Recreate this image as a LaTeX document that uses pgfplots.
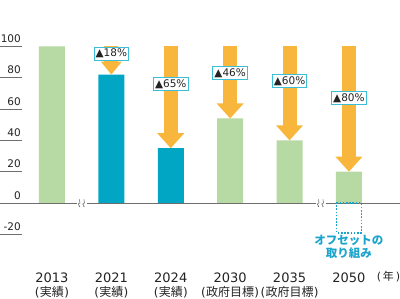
\documentclass[border=0pt]{standalone}
\usepackage{pgfplots}
\pgfplotsset{compat=1.18}
\usetikzlibrary{arrows.meta,calc}
\usepackage{fontspec}
\setmainfont{DejaVu Sans}
\newfontfamily\cjk{Noto Sans CJK JP}
\definecolor{cgreen}{RGB}{183,217,163}
\definecolor{cteal}{RGB}{0,166,196}
\definecolor{corange}{RGB}{248,183,60}
\definecolor{cborder}{RGB}{60,190,214}
\definecolor{coff}{RGB}{27,164,204}
\definecolor{cgray}{RGB}{110,110,110}
\definecolor{ctext}{RGB}{35,35,35}
\newcommand{\jl}[1]{{\fontsize{12}{13}\selectfont(\kern0.3pt{\cjk #1}\kern0.3pt)}}
\begin{document}
\begin{tikzpicture}
\begin{axis}[
  width=400pt, height=298pt, scale only axis,
  xmin=-0.875, xmax=5.86, ymin=-60.7, ymax=129.7,
  axis line style={draw=none},
  ytick={-20,0,20,40,60,80,100},
  ytick pos=left,
  ytick style={draw=none},
  yticklabel style={anchor=south east, xshift=22pt, yshift=2.5pt, inner sep=1pt,
     font=\fontsize{10.5}{12}\selectfont, text=ctext},
  /pgf/number format/assume math mode=true,
  xtick={0,1,2,3,4,5},
  xtick pos=bottom,
  xtick style={draw=none},
  xticklabels={{2013\\[-0.5pt]\jl{実績}},
               {2021\\[-0.5pt]\jl{実績}},
               {2024\\[-0.5pt]\jl{実績}},
               {2030\\[-0.5pt]\jl{政府目標}},
               {2035\\[-0.5pt]\jl{政府目標}},
               {2050}},
  xticklabel style={anchor=north, yshift=25pt, inner sep=0pt, align=center,
     font=\fontsize{13}{14}\selectfont, text=ctext},
  clip=false,
]
% zero line
\draw[cgray, line width=0.8pt] (axis cs:-0.875,0) -- (axis cs:5.86,0);
% bars
\addplot[ybar, bar width=26pt, bar shift=0pt, fill=cgreen, draw=none]
  coordinates {(0,100) (3,54) (4,40) (5,20)};
\addplot[ybar, bar width=26pt, bar shift=0pt, fill=cteal, draw=none]
  coordinates {(1,82) (2,35)};
% offset (dotted)
\addplot[ybar, bar width=25pt, bar shift=0pt, fill=none, draw=coff,
  line width=1.6pt, dash pattern=on 1.6pt off 1.6pt]
  coordinates {(5,-19)};
% arrows
\addplot[draw=corange, line width=14pt,
  -{Triangle[width=26pt, length=15pt]},
  quiver={u=0, v=\thisrow{v}}]
  table[row sep=\\] {x y v\\ 2 100 -65\\ 3 100 -46\\ 4 100 -60\\ 5 100 -80\\};
\addplot[draw=corange, line width=14pt,
  -{Triangle[width=20pt, length=13pt]},
  quiver={u=0, v=\thisrow{v}}]
  table[row sep=\\] {x y v\\ 1 100 -18\\};
% breaks
\pgfplotsinvokeforeach{0.505,4.53}{
  \fill[white] ($(axis cs:#1,0)+(-5pt,-2pt)$) rectangle ($(axis cs:#1,0)+(5pt,2pt)$);
  \draw[cgray, line width=0.6pt] ($(axis cs:#1,0)+(-3pt,-4pt)$) .. controls +(2.5pt,0pt) and +(-2.5pt,0pt) .. ++(0pt,3.5pt) .. controls +(2.5pt,0pt) and +(-1pt,-1pt) .. ++(0.5pt,4pt);
  \draw[cgray, line width=0.6pt] ($(axis cs:#1,0)+(1.5pt,-4pt)$) .. controls +(2.5pt,0pt) and +(-2.5pt,0pt) .. ++(0pt,3.5pt) .. controls +(2.5pt,0pt) and +(-1pt,-1pt) .. ++(0.5pt,4pt);
}
% labels
\tikzset{pct/.style={draw=cborder, fill=white, line width=0.9pt, inner xsep=1.5pt, inner ysep=2pt,
   font=\fontsize{10.5}{11}\selectfont, text=ctext}}
\node[pct] at (axis cs:1,95.5) {▲18\%};
\node[pct] at (axis cs:2,76) {▲65\%};
\node[pct] at (axis cs:3,83) {▲46\%};
\node[pct] at (axis cs:4,78) {▲60\%};
\node[pct] at (axis cs:5,67.1) {▲80\%};
\node[align=center, text=coff, font=\cjk\bfseries\fontsize{11.5}{13.5}\selectfont]
  at (axis cs:5,-28) {オフセットの\\取り組み};
\node[text=ctext, font=\fontsize{11}{12}\selectfont] at (axis cs:5.665,-47.3) {(\,{\cjk 年}\,)};
% anchor points for the y tick underlines
\coordinate (ta) at (axis cs:-0.875,100);
\coordinate (tb) at (axis cs:-0.875,80);
\coordinate (tc) at (axis cs:-0.875,60);
\coordinate (td) at (axis cs:-0.875,40);
\coordinate (te) at (axis cs:-0.875,20);
\coordinate (tf) at (axis cs:-0.875,-20);
\coordinate (bl) at (rel axis cs:0,0);
\coordinate (tr) at (rel axis cs:1,1);
\end{axis}
\foreach \t in {ta,tb,tc,td,te,tf} {
  \draw[cgray, line width=0.8pt] (\t) -- ++(22pt,0pt);
}
\pgfresetboundingbox
\useasboundingbox (bl) rectangle (tr);
\end{tikzpicture}
\end{document}
